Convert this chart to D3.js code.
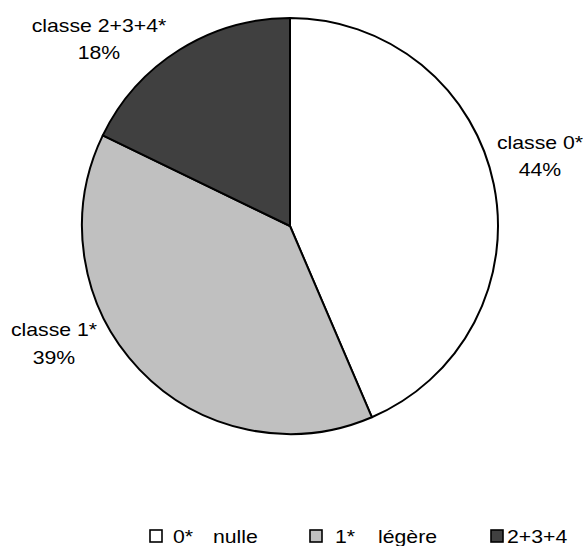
<!DOCTYPE html>
<html><head><meta charset="utf-8">
<script src="https://cdn.jsdelivr.net/npm/d3@7"></script>
<style>body{margin:0;background:#fff}svg{display:block}</style>
</head><body>
<script>
const categories = ["classe 0*", "classe 1*", "classe 2+3+4*"];
const values = [44, 39, 18];
const pctLabels = ["44%", "39%", "18%"];
const legendCodes = ["0*", "1*", "2+3+4"];
const legendNames = ["nulle", "légère", ""];
const colors = ["#ffffff", "#c0c0c0", "#404040"];

const W = 583, H = 546;
const svg = d3.select("body").append("svg").attr("width", W).attr("height", H);
const cx = 290, cy = 226, R = 208;
const FS = 18, SX = 1.18;

const pie = d3.pie().sort(null).value(d => d)(values);
const arc = d3.arc().innerRadius(0).outerRadius(R);
const g = svg.append("g").attr("transform", `translate(${cx},${cy})`);
g.selectAll("path").data(pie).join("path")
  .attr("d", arc)
  .attr("fill", (d, i) => colors[i])
  .attr("stroke", "#000").attr("stroke-width", 2).attr("stroke-linejoin", "round");

function txt(x, y, s, anchor) {
  svg.append("text")
    .attr("transform", `translate(${x},${y}) scale(${SX},1)`)
    .attr("text-anchor", anchor || "middle")
    .attr("font-family", "Liberation Sans, Arial, sans-serif")
    .attr("font-size", FS).attr("fill", "#000").text(s);
}
const labelPos = [[540, 149, 176], [54, 336, 364], [99, 32, 59]];
categories.forEach((c, i) => {
  const p = labelPos[i];
  txt(p[0], p[1], c);
  txt(p[0], p[2], pctLabels[i]);
});

const legend = [
  {sq: 150, code: 173, name: 213},
  {sq: 310, code: 335, name: 378},
  {sq: 491, code: 507, name: null}
];
legend.forEach((L, i) => {
  svg.append("rect").attr("x", L.sq).attr("y", 530).attr("width", 12).attr("height", 12)
    .attr("fill", colors[i]).attr("stroke", "#000").attr("stroke-width", 1.6);
  txt(L.code, 543, legendCodes[i], "start");
  if (legendNames[i]) txt(L.name, 543, legendNames[i], "start");
});
</script>
</body></html>
